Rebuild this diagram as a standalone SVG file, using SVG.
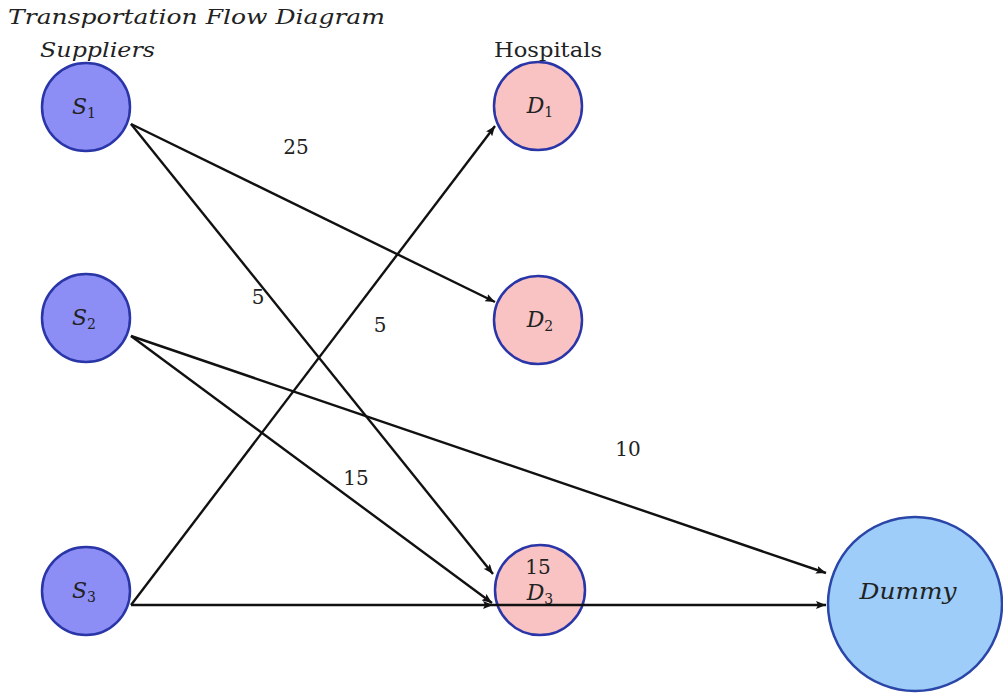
<svg xmlns="http://www.w3.org/2000/svg" width="1003" height="696" viewBox="0 0 1003 696">
<defs>
<marker id="arr" viewBox="0 0 10 8" refX="10" refY="4" markerWidth="10" markerHeight="8" markerUnits="userSpaceOnUse" orient="auto">
<path d="M0,0 L10,4 L0,8 L2,4 Z" fill="#111"/>
</marker>
</defs>
<style>
.sup{fill:#8c8ef6;stroke:#2a36a8;stroke-width:2.5}
.hos{fill:#f9c3c3;stroke:#2a36a8;stroke-width:2.5}
.dum{fill:#9dcdf8;stroke:#2a46a8;stroke-width:2.5}
.e{stroke:#111;stroke-width:2.4;fill:none;marker-end:url(#arr)}
.t{font-family:"DejaVu Serif","Liberation Serif",serif;fill:#222}
.it{font-style:italic}
.lbl{font-family:"DejaVu Serif","Liberation Serif",serif;font-size:20px;fill:#222;text-anchor:middle}
.nl{font-family:"DejaVu Serif","Liberation Serif",serif;font-size:22px;font-style:italic;fill:#222;text-anchor:middle}
</style>
<rect width="1003" height="696" fill="#fff"/>
<text class="t it" x="8" y="24" font-size="21" textLength="377" lengthAdjust="spacingAndGlyphs">Transportation Flow Diagram</text>
<text class="t it" x="40" y="57" font-size="21" textLength="115" lengthAdjust="spacingAndGlyphs">Suppliers</text>
<text class="t" x="494" y="57" font-size="21" textLength="108" lengthAdjust="spacingAndGlyphs">Hospitals</text>
<g id="S1"><circle class="sup" cx="86" cy="107" r="44"/><text class="nl" x="84" y="114">S<tspan font-size="14" font-style="normal" dy="4">1</tspan></text></g>
<g id="S2"><circle class="sup" cx="86" cy="318" r="44"/><text class="nl" x="84" y="325">S<tspan font-size="14" font-style="normal" dy="4">2</tspan></text></g>
<g id="S3"><circle class="sup" cx="86" cy="591" r="44"/><text class="nl" x="84" y="598">S<tspan font-size="14" font-style="normal" dy="4">3</tspan></text></g>
<g id="D1"><circle class="hos" cx="538" cy="106" r="44"/><text class="nl" x="540" y="113">D<tspan font-size="14" font-style="normal" dy="4">1</tspan></text></g>
<g id="D2"><circle class="hos" cx="538" cy="320" r="44"/><text class="nl" x="540" y="327">D<tspan font-size="14" font-style="normal" dy="4">2</tspan></text></g>
<g id="D3"><circle class="hos" cx="540" cy="590" r="45"/><text class="nl" x="540" y="600">D<tspan font-size="14" font-style="normal" dy="4">3</tspan></text></g>
<g id="Dummy"><circle class="dum" cx="915" cy="604" r="87"/><text class="nl" x="908" y="599" textLength="97" lengthAdjust="spacingAndGlyphs">Dummy</text></g>
<g id="edges">
<line class="e" x1="131" y1="124" x2="495" y2="302"/>
<line class="e" x1="131" y1="124" x2="493" y2="574"/>
<line class="e" x1="131" y1="336" x2="826" y2="573"/>
<line class="e" x1="131" y1="336" x2="492" y2="603"/>
<line class="e" x1="131" y1="605" x2="495" y2="126"/>
<line class="e" x1="131" y1="605" x2="493" y2="605"/>
<line class="e" x1="493" y1="605" x2="826" y2="605"/>
</g>
<g id="labels">
<text class="lbl" x="296" y="154">25</text>
<text class="lbl" x="258" y="304">5</text>
<text class="lbl" x="380" y="332">5</text>
<text class="lbl" x="628" y="456">10</text>
<text class="lbl" x="356" y="485">15</text>
<text class="lbl" x="538" y="574">15</text>
</g>
</svg>
